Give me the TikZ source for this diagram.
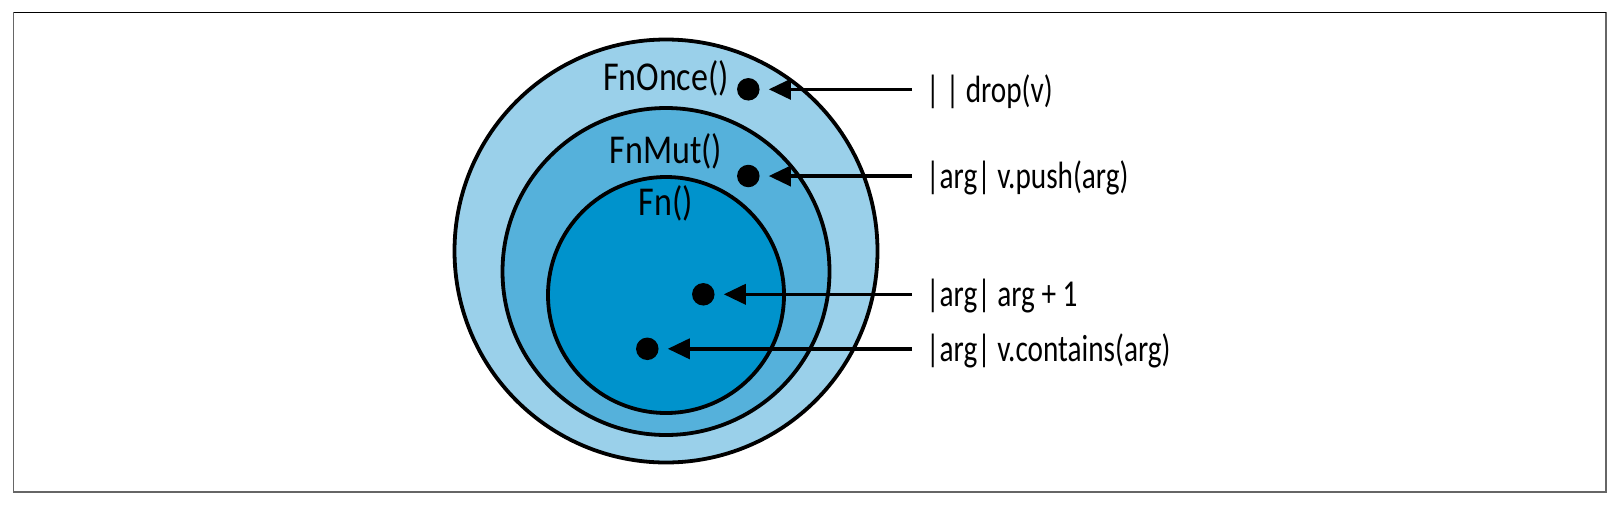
\documentclass[tikz,border=0pt]{standalone}
\usepackage{fontspec}
\setmainfont{Carlito}[FakeStretch=0.77]
\newfontfamily\ringfont{Carlito}[FakeStretch=0.83]
\usetikzlibrary{arrows.meta}
\definecolor{outerblue}{HTML}{9AD0EA}
\definecolor{midblue}{HTML}{55B1DB}
\definecolor{innerblue}{HTML}{0093CC}
\definecolor{framegray}{HTML}{666666}
\tikzset{
  ring/.style={circle, draw=black, line width=3.8pt, inner sep=0pt},
  dotnode/.style={circle, fill=black, minimum size=22.5pt, inner sep=0pt},
  ringlabel/.style={font=\ringfont\fontsize{41}{44}\selectfont, anchor=base, inner sep=0pt},
  codelabel/.style={font=\fontsize{38}{42}\selectfont, anchor=base west, inner xsep=14pt, inner ysep=0pt},
  pointer/.style={line width=3.6pt, -{Triangle[length=22pt,width=20pt]}, shorten >=9pt}
}
\begin{document}
\begin{tikzpicture}[x=1pt,y=-1pt]
\useasboundingbox (0,0) rectangle (1621,507);
\draw[framegray, line width=1.6pt] (13.5,12.5) rectangle (1606,492);
\draw[black, line width=1.6pt] (13.5,12.5) -- (1606,12.5);
% circles
\node[ring, fill=outerblue, minimum size=423pt] (once) at (666,251) {};
\node[ring, fill=midblue, minimum size=327pt] (mut) at (666,271.5) {};
\node[ring, fill=innerblue, minimum size=236pt] (fn) at (666,295) {};
% circle labels
\node[ringlabel] (onceL) at (666,90) {FnOnce()};
\node[ringlabel] (mutL) at (666,163) {FnMut()};
\node[ringlabel] (fnL) at (666,215) {Fn()};
% dots
\node[dotnode] (d1) at (748.3,89.3) {};
\node[dotnode] (d2) at (748.3,176) {};
\node[dotnode] (d3) at (703.3,294.3) {};
\node[dotnode] (d4) at (647.3,348.8) {};
% code labels
\node[codelabel] (l1) at (912,102.5) {|\,|\,drop(v)};
\node[codelabel] (l2) at (912,188.5) {|arg| v.push(arg)};
\node[codelabel] (l3) at (912,306.5) {|arg| arg + 1};
\node[codelabel] (l4) at (912,361) {|arg| v.contains(arg)};
% arrows
\draw[pointer] (l1.west |- d1) -- (d1.east);
\draw[pointer] (l2.west |- d2) -- (d2.east);
\draw[pointer] (l3.west |- d3) -- (d3.east);
\draw[pointer] (l4.west |- d4) -- (d4.east);
\end{tikzpicture}
\end{document}
